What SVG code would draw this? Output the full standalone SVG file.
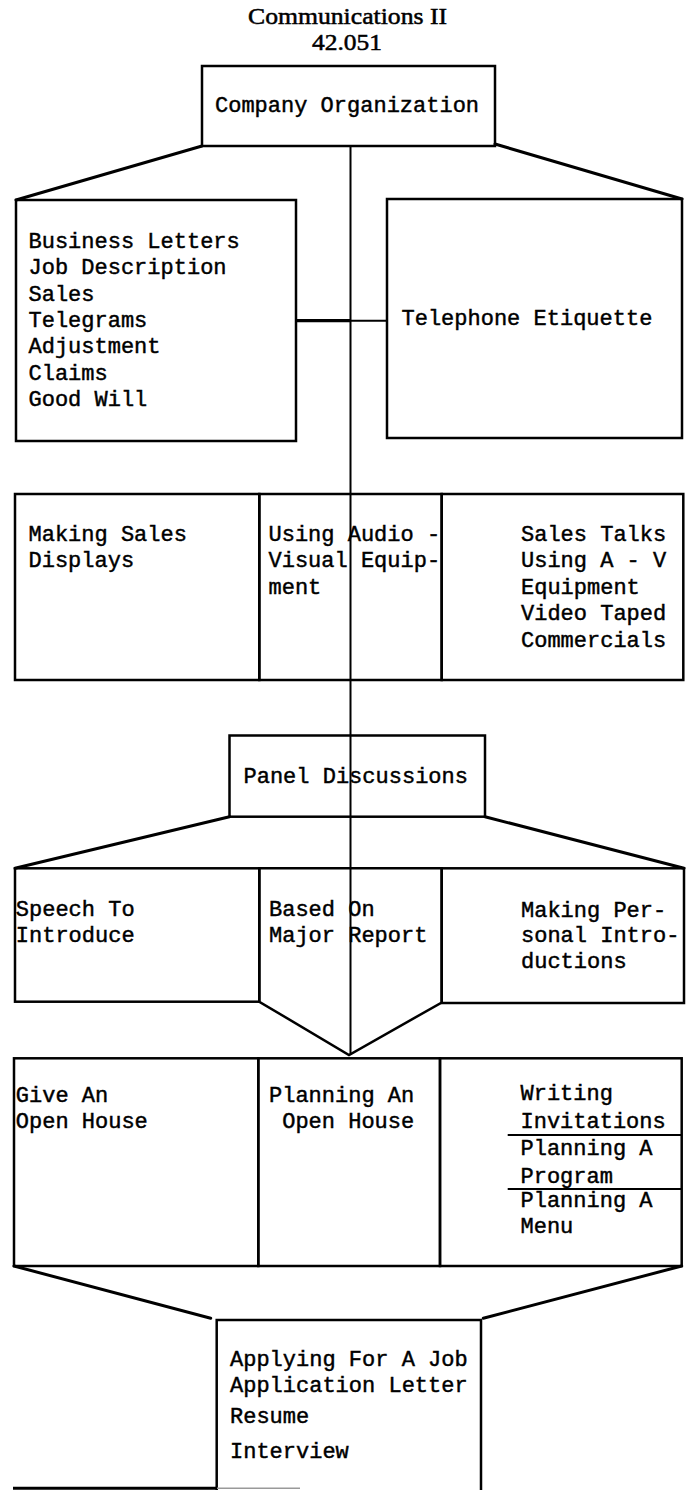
<svg xmlns="http://www.w3.org/2000/svg" width="690" height="1490" viewBox="0 0 690 1490">
<style>
.t{font-family:"Liberation Mono","Courier New",monospace;font-size:22px;fill:#000;stroke:#000;stroke-width:0.45}
.ti{font-family:"Liberation Serif","Times New Roman",serif;font-size:23px;fill:#000;stroke:#000;stroke-width:0.5}
.bx{fill:none;stroke:#000;stroke-width:2.5;stroke-linejoin:miter}
.ln{fill:none;stroke:#000;stroke-width:3;stroke-linecap:round}
.thin{fill:none;stroke:#000;stroke-width:2}
</style>
<rect x="0" y="0" width="690" height="1490" fill="#fff"/>
<g id="title">
<text class="ti" x="248" y="23.5" textLength="199" lengthAdjust="spacingAndGlyphs">Communications II</text>
<text class="ti" x="312" y="50" textLength="70" lengthAdjust="spacingAndGlyphs">42.051</text>
</g>
<g id="company-organization">
<rect class="bx" x="202" y="66" width="293" height="80"/>
<text class="t" x="215" y="112">Company Organization</text>
</g>
<g id="business-letters">
<rect class="bx" x="16" y="200" width="280" height="241"/>
<text class="t" x="28.5" y="248">Business Letters</text>
<text class="t" x="28.5" y="274.3">Job Description</text>
<text class="t" x="28.5" y="300.6">Sales</text>
<text class="t" x="28.5" y="326.9">Telegrams</text>
<text class="t" x="28.5" y="353.2">Adjustment</text>
<text class="t" x="28.5" y="379.5">Claims</text>
<text class="t" x="28.5" y="405.8">Good Will</text>
</g>
<g id="telephone-etiquette">
<rect class="bx" x="387" y="199" width="295" height="239"/>
<text class="t" x="401.5" y="325">Telephone Etiquette</text>
</g>
<g id="making-sales-displays">
<rect class="bx" x="15" y="494" width="244.3" height="186"/>
<text class="t" x="28.5" y="541">Making Sales</text>
<text class="t" x="28.5" y="567">Displays</text>
</g>
<g id="using-audio-visual">
<rect class="bx" x="259.3" y="494" width="182.4" height="186"/>
<text class="t" x="268.5" y="541">Using Audio -</text>
<text class="t" x="268.5" y="567">Visual Equip-</text>
<text class="t" x="268.5" y="593.5">ment</text>
</g>
<g id="sales-talks">
<rect class="bx" x="441.7" y="494" width="241.6" height="186"/>
<text class="t" x="521" y="541">Sales Talks</text>
<text class="t" x="521" y="567">Using A - V</text>
<text class="t" x="521" y="593.5">Equipment</text>
<text class="t" x="521" y="620">Video Taped</text>
<text class="t" x="521" y="646.5">Commercials</text>
</g>
<g id="panel-discussions">
<rect class="bx" x="229.5" y="735.5" width="255.5" height="81.2"/>
<text class="t" x="243.5" y="783.3">Panel Discussions</text>
</g>
<g id="speech-to-introduce">
<rect class="bx" x="15" y="868.3" width="244.3" height="133.4"/>
<text class="t" x="15.8" y="916">Speech To</text>
<text class="t" x="15.8" y="942">Introduce</text>
</g>
<g id="based-on-major-report">
<path class="bx" d="M259.3,1001.7 V868.3 H441.7 V1002.5 L349,1055 Z"/>
<text class="t" x="269" y="916">Based On</text>
<text class="t" x="269" y="942">Major Report</text>
</g>
<g id="personal-introductions">
<rect class="bx" x="441.7" y="868.3" width="242.3" height="134.7"/>
<text class="t" x="521" y="916.5">Making Per-</text>
<text class="t" x="521" y="942">sonal Intro-</text>
<text class="t" x="521" y="968.3">ductions</text>
</g>
<g id="give-an-open-house">
<rect class="bx" x="14" y="1058.3" width="244.3" height="207.7"/>
<text class="t" x="15.8" y="1101.7">Give An</text>
<text class="t" x="15.8" y="1128.3">Open House</text>
</g>
<g id="planning-an-open-house">
<rect class="bx" x="258.3" y="1058.3" width="181.7" height="207.7"/>
<text class="t" x="269" y="1101.7">Planning An</text>
<text class="t" x="282.2" y="1128.3">Open House</text>
</g>
<g id="writing-invitations">
<rect class="bx" x="440" y="1058.3" width="241.7" height="207.7"/>
<line class="thin" x1="507.7" y1="1135" x2="681" y2="1135"/>
<line class="thin" x1="507.7" y1="1189" x2="681" y2="1189"/>
<text class="t" x="520.5" y="1100">Writing</text>
<text class="t" x="520.5" y="1128.3">Invitations</text>
<text class="t" x="520.5" y="1155">Planning A</text>
<text class="t" x="520.5" y="1182.7">Program</text>
<text class="t" x="520.5" y="1206.7">Planning A</text>
<text class="t" x="520.5" y="1233.3">Menu</text>
</g>
<g id="applying-for-a-job">
<path class="bx" d="M216.7,1490 V1320 H481 V1490"/>
<text class="t" x="230" y="1366">Applying For A Job</text>
<text class="t" x="230" y="1391.7">Application Letter</text>
<text class="t" x="230" y="1423.3">Resume</text>
<text class="t" x="230" y="1458.3">Interview</text>
</g>
<g id="connectors">
<line class="thin" x1="350.5" y1="146" x2="350.5" y2="1055"/>
<line class="ln" x1="202" y1="146" x2="16" y2="200"/>
<line class="ln" x1="495" y1="144" x2="682" y2="199"/>
<line fill="none" stroke="#000" stroke-width="3.3" x1="296" y1="320.7" x2="350.5" y2="320.7"/>
<line class="thin" x1="350.5" y1="320.7" x2="387" y2="320.7"/>
<line class="ln" x1="229.5" y1="816.7" x2="15" y2="868.3"/>
<line class="ln" x1="485" y1="816.7" x2="684" y2="868.3"/>
<line class="ln" x1="14" y1="1266" x2="210.7" y2="1318.3"/>
<line class="ln" x1="681.7" y1="1266" x2="483.3" y2="1318.3"/>
<line fill="none" stroke="#000" stroke-width="3" x1="13" y1="1488.3" x2="217" y2="1488.3"/>
<line fill="none" stroke="#999" stroke-width="1.5" x1="217" y1="1488.3" x2="300" y2="1488.3"/>
</g>
</svg>
